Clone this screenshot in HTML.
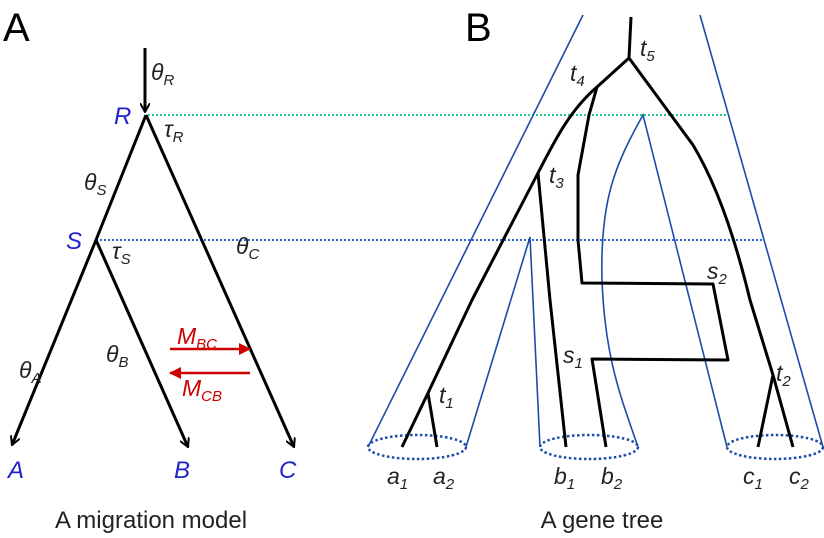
<!DOCTYPE html>
<html><head><style>
body{margin:0;background:#fff}
svg{display:block}
text{font-family:"Liberation Sans",sans-serif}
.it{font-style:italic;font-size:23px;fill:#222}
.sub{font-size:15px}
</style></head><body>
<svg width="824" height="538" viewBox="0 0 824 538">
<defs>
<marker id="ak" markerWidth="10" markerHeight="10" refX="9" refY="5" orient="auto" markerUnits="userSpaceOnUse"><path d="M0,0 L9,5 L0,10" fill="none" stroke="#000" stroke-width="2"/></marker>
<marker id="ar" markerWidth="12" markerHeight="12" refX="11" refY="6" orient="auto" markerUnits="userSpaceOnUse"><path d="M0,0 L12,6 L0,12 Z" fill="#c00"/></marker>
</defs>
<text x="3" y="41" font-size="40">A</text>
<text x="465" y="41" font-size="40">B</text>
<line x1="148" y1="115" x2="728" y2="115" stroke="#2c8" stroke-width="2" stroke-dasharray="2,2"/>
<line x1="96" y1="240" x2="763" y2="240" stroke="#36d" stroke-width="2" stroke-dasharray="2,2"/>
<g stroke="#000" stroke-width="3" fill="none">
<line x1="145" y1="48" x2="145" y2="112" marker-end="url(#ak)"/>
<polyline points="146,115 96,240 12,445" marker-end="url(#ak)"/>
<line x1="146" y1="115" x2="294" y2="447" marker-end="url(#ak)"/>
<line x1="96" y1="240" x2="188" y2="447" marker-end="url(#ak)"/>
</g>
<g stroke="#c00" stroke-width="2.5">
<line x1="170" y1="349" x2="250" y2="349" marker-end="url(#ar)"/>
<line x1="250" y1="373" x2="170" y2="373" marker-end="url(#ar)"/>
</g>
<text class="it" x="177" y="344" style="fill:#c00">M<tspan class="sub" dy="5">BC</tspan></text>
<text class="it" x="182" y="396" style="fill:#c00">M<tspan class="sub" dy="5">CB</tspan></text>
<text class="it" x="151" y="80">θ<tspan class="sub" dy="5">R</tspan></text>
<text class="it" x="164" y="137">τ<tspan class="sub" dy="5">R</tspan></text>
<text class="it" x="84" y="190">θ<tspan class="sub" dy="5">S</tspan></text>
<text class="it" x="112" y="259">τ<tspan class="sub" dy="5">S</tspan></text>
<text class="it" x="19" y="378">θ<tspan class="sub" dy="5">A</tspan></text>
<text class="it" x="106" y="362">θ<tspan class="sub" dy="5">B</tspan></text>
<text class="it" x="236" y="254">θ<tspan class="sub" dy="5">C</tspan></text>
<text class="it" x="114" y="124" style="fill:#22c;font-size:24px">R</text>
<text class="it" x="66" y="249" style="fill:#22c;font-size:24px">S</text>
<text class="it" x="8" y="478" style="fill:#22c;font-size:24px">A</text>
<text class="it" x="174" y="478" style="fill:#22c;font-size:24px">B</text>
<text class="it" x="279" y="478" style="fill:#22c;font-size:24px">C</text>
<g stroke="#1c4ca8" stroke-width="1.6" fill="none">
<line x1="583" y1="15" x2="368" y2="447"/>
<polyline points="466,447 530,237 540,447"/>
<path d="M638,447 C622,400 605,360 602,280 C600,200 615,165 643,115 L727,447"/>
<line x1="700" y1="15" x2="823" y2="447"/>
</g>
<g stroke="#1c4ca8" stroke-width="2.5" fill="none" stroke-dasharray="2.5,2.5">
<ellipse cx="417" cy="447" rx="49" ry="12"/>
<ellipse cx="589" cy="447" rx="49" ry="12"/>
<ellipse cx="775" cy="447" rx="48" ry="12"/>
</g>
<g stroke="#000" stroke-width="3" fill="none" stroke-linejoin="round">
<line x1="631" y1="17" x2="629" y2="58"/>
<path d="M629,58 L597,87 C570,110 555,140 538,173 L472,300 L428,393 L402,447"/>
<line x1="428" y1="393" x2="437" y2="447"/>
<polyline points="538,173 550,300 566,447"/>
<path d="M597,87 L589,115 L578,175 L578,240 L582,283 L713,284 L728,360 L592,359 L606,447"/>
<path d="M629,58 L693,145 C720,190 738,250 750,300 L773,375 L793,447"/>
<line x1="773" y1="375" x2="758" y2="447"/>
</g>
<text class="it" x="640" y="56">t<tspan class="sub" dy="5">5</tspan></text>
<text class="it" x="570" y="81">t<tspan class="sub" dy="5">4</tspan></text>
<text class="it" x="549" y="183">t<tspan class="sub" dy="5">3</tspan></text>
<text class="it" x="707" y="279">s<tspan class="sub" dy="5">2</tspan></text>
<text class="it" x="563" y="363">s<tspan class="sub" dy="5">1</tspan></text>
<text class="it" x="439" y="403">t<tspan class="sub" dy="5">1</tspan></text>
<text class="it" x="776" y="381">t<tspan class="sub" dy="5">2</tspan></text>
<text class="it" x="387" y="484">a<tspan class="sub" dy="5">1</tspan></text>
<text class="it" x="433" y="484">a<tspan class="sub" dy="5">2</tspan></text>
<text class="it" x="554" y="484">b<tspan class="sub" dy="5">1</tspan></text>
<text class="it" x="601" y="484">b<tspan class="sub" dy="5">2</tspan></text>
<text class="it" x="743" y="484">c<tspan class="sub" dy="5">1</tspan></text>
<text class="it" x="789" y="484">c<tspan class="sub" dy="5">2</tspan></text>
<text x="151" y="528" font-size="24" text-anchor="middle" fill="#222">A migration model</text>
<text x="602" y="528" font-size="24" text-anchor="middle" fill="#222">A gene tree</text>
</svg>
</body></html>
